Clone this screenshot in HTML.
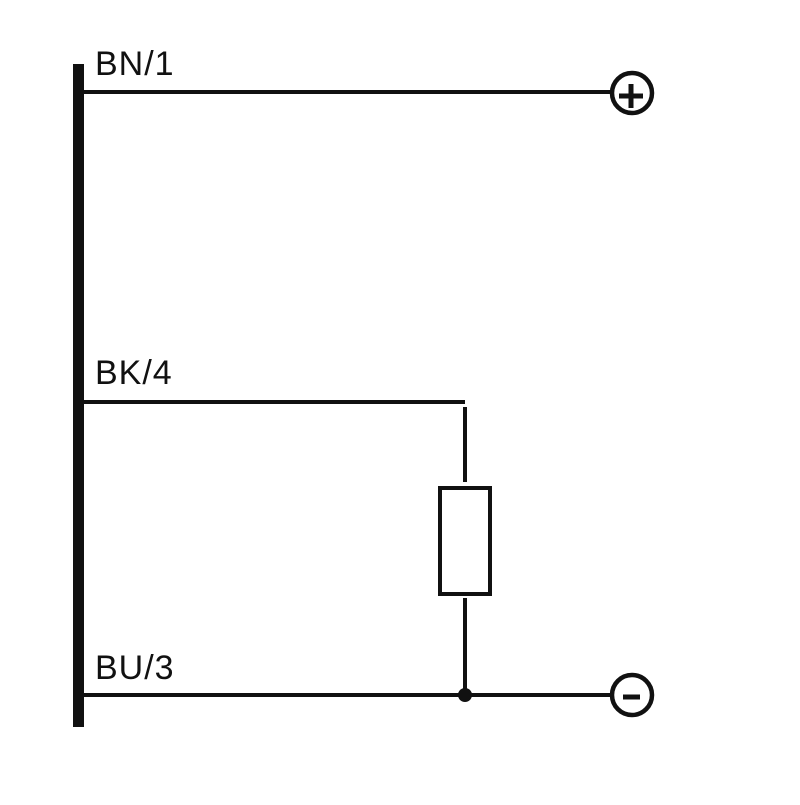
<!DOCTYPE html>
<html><head><meta charset="utf-8"><style>html,body{margin:0;padding:0;background:#fff}</style></head>
<body>
<svg width="800" height="800" viewBox="0 0 800 800" xmlns="http://www.w3.org/2000/svg">
<rect width="800" height="800" fill="#fff"/>
<g fill="#111" font-family="Liberation Sans, sans-serif" font-size="34" letter-spacing="1">
<text x="95" y="75">BN/1</text>
<text x="95" y="384">BK/4</text>
<text x="95" y="679">BU/3</text>
</g>
<rect x="73" y="64" width="11" height="663" fill="#111"/>
<g stroke="#111" stroke-width="4" fill="none">
<line x1="84" y1="92" x2="612" y2="92"/>
<line x1="84" y1="402" x2="465" y2="402"/>
<line x1="465" y1="407" x2="465" y2="482"/>
<rect x="440" y="488" width="50" height="106"/>
<line x1="465" y1="598" x2="465" y2="695"/>
<line x1="84" y1="695" x2="612" y2="695"/>
</g>
<g stroke="#111" stroke-width="4.5" fill="#fff">
<circle cx="632" cy="93" r="20"/>
<circle cx="632" cy="695" r="20"/>
</g>
<circle cx="465" cy="695" r="7" fill="#111"/>
<g stroke="#111" stroke-width="5">
<line x1="619" y1="96" x2="643" y2="96"/>
<line x1="631" y1="84" x2="631" y2="108"/>
<line x1="623" y1="697" x2="640" y2="697"/>
</g>
</svg>
</body></html>
